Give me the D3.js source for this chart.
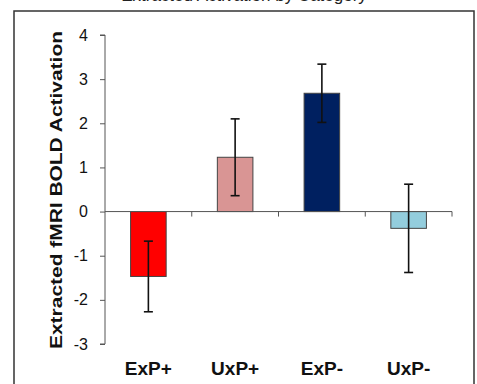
<!DOCTYPE html>
<html>
<head>
<meta charset="utf-8">
<script src="https://cdn.jsdelivr.net/npm/d3@7"></script>
<style>
  body { margin: 0; background: #fff; }
  svg { display: block; font-family: Arial, "Liberation Sans", sans-serif; }
</style>
</head>
<body>
<svg id="chart" width="477" height="384"></svg>
<script>
// bar chart data
var categories = ["ExP+", "UxP+", "ExP-", "UxP-"];
var means = [-1.47, 1.23, 2.68, -0.38];
var errors = [0.80, 0.87, 0.66, 1.00];
var barColors = ["#ff0000", "#d99594", "#002060", "#93cddd"];
var yTicks = [-3, -2, -1, 0, 1, 2, 3, 4];

var svg = d3.select("#chart");

// frame around the whole figure
svg.append("rect")
	.attr("x", 14).attr("y", 11)
	.attr("width", 460).attr("height", 400)
	.attr("fill", "none")
	.attr("stroke", "#333")
	.attr("stroke-width", 1.5);

// title is mostly cut off at the top edge
svg.append("text")
	.attr("x", 244).attr("y", 1)
	.attr("text-anchor", "middle")
	.style("font-size", "17px")
	.attr("fill", "#222")
	.text("Extracted Activation by Category");

var x = d3.scaleBand()
	.domain(categories)
	.range([105, 452])
	.paddingInner(0.59)
	.paddingOuter(0.295);

var y = d3.scaleLinear()
	.domain([-3, 4])
	.range([344, 35]);

// y axis
var yAxis = d3.axisLeft(y).tickValues(yTicks).tickSize(5).tickPadding(12)
	.tickFormat(function(d) { return String(d); });
var gy = svg.append("g").attr("transform", "translate(105,0)").call(yAxis);
gy.select(".domain").attr("stroke", "#555").attr("d", "M-5," + y(4) + "H0V" + y(-3) + "H-5");
gy.selectAll(".tick line").attr("stroke", "#555");
gy.selectAll(".tick text").style("font-size", "16px").attr("fill", "#111");

// bars
svg.selectAll("rect.bar")
	.data(means)
	.enter().append("rect")
	.attr("class", "bar")
	.attr("x", function(d, i) { return x(categories[i]); })
	.attr("y", function(d) { return y(Math.max(0, d)); })
	.attr("width", x.bandwidth())
	.attr("height", function(d) { return Math.abs(y(d) - y(0)); })
	.attr("fill", function(d, i) { return barColors[i]; })
	.attr("stroke", "#444")
	.attr("stroke-width", 1);

// x axis along zero, with ticks between categories
var boundaries = [1, 2, 3, 4];
var gx = svg.append("g");
gx.append("line")
	.attr("x1", 105).attr("x2", 452)
	.attr("y1", y(0)).attr("y2", y(0))
	.attr("stroke", "#555");
gx.selectAll("line.tk")
	.data(boundaries)
	.enter().append("line")
	.attr("class", "tk")
	.attr("x1", function(d) { return 105 + d * x.step(); })
	.attr("x2", function(d) { return 105 + d * x.step(); })
	.attr("y1", y(0)).attr("y2", y(0) + 5)
	.attr("stroke", "#555");

// error bars
var eb = svg.selectAll("g.err")
	.data(means)
	.enter().append("g")
	.attr("class", "err")
	.attr("stroke", "#111")
	.attr("stroke-width", 1.6);
eb.append("line")
	.attr("x1", function(d, i) { return x(categories[i]) + x.bandwidth() / 2; })
	.attr("x2", function(d, i) { return x(categories[i]) + x.bandwidth() / 2; })
	.attr("y1", function(d, i) { return y(d + errors[i]); })
	.attr("y2", function(d, i) { return y(d - errors[i]); });
[1, -1].forEach(function(s) {
	eb.append("line")
		.attr("x1", function(d, i) { return x(categories[i]) + x.bandwidth() / 2 - 4.5; })
		.attr("x2", function(d, i) { return x(categories[i]) + x.bandwidth() / 2 + 4.5; })
		.attr("y1", function(d, i) { return y(d + s * errors[i]); })
		.attr("y2", function(d, i) { return y(d + s * errors[i]); });
});

// category labels below the plot
svg.selectAll("text.cat")
	.data(categories)
	.enter().append("text")
	.attr("class", "cat")
	.attr("x", function(d) { return x(d) + x.bandwidth() / 2; })
	.attr("y", 375)
	.attr("text-anchor", "middle")
	.style("font-size", "19px")
	.style("font-weight", "bold")
	.attr("fill", "#111")
	.text(function(d) { return d; });

// y axis title
svg.append("text")
	.attr("transform", "translate(62,190) rotate(-90)")
	.attr("text-anchor", "middle")
	.style("font-size", "17px")
	.style("font-weight", "bold")
	.attr("fill", "#111")
	.attr("textLength", 318)
	.attr("lengthAdjust", "spacingAndGlyphs")
	.text("Extracted fMRI BOLD Activation");
</script>
</body>
</html>
